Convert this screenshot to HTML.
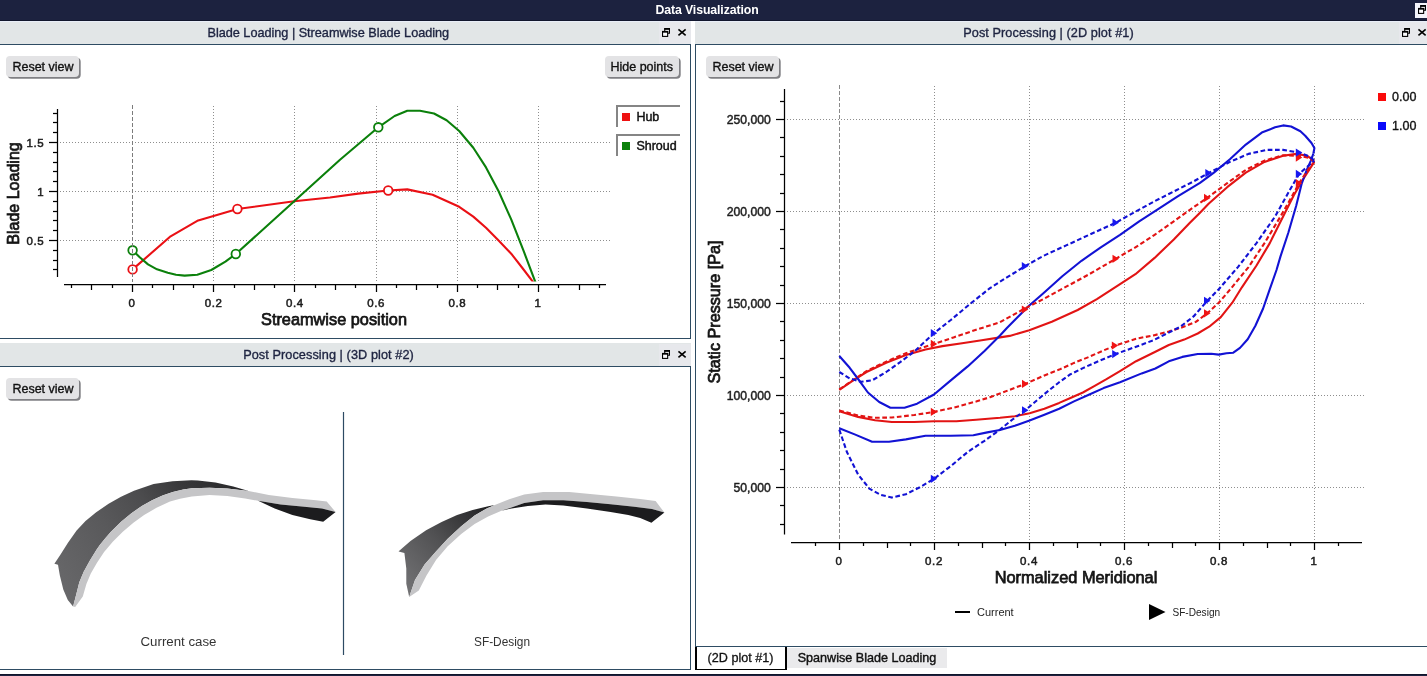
<!DOCTYPE html>
<html lang="en">
<head>
<meta charset="utf-8">
<title>Data Visualization</title>
<style>
html,body{margin:0;padding:0;}
body{width:1427px;height:676px;overflow:hidden;background:#fff;position:relative;font-family:"Liberation Sans", sans-serif;font-size:13px;color:#1b2140;}
.abs{position:absolute;}
#topbar{left:0;top:0;width:1427px;height:20px;border-bottom:1px solid #12172e;background:#1c223f;color:#fff;text-align:center;}
#topbar span{position:absolute;left:655px;top:3px;width:104px;line-height:15px;font-weight:bold;font-size:12.3px;white-space:nowrap;letter-spacing:-0.1px;}
#topbtn{left:1415px;top:3px;width:12px;height:15px;background:#f4f5fb;}
#topbtn svg{position:absolute;left:3px;top:2px;}
.tbar{background:#e2e6e7;border-top:1px solid #e9eef8;border-bottom:1px solid #2e4c63;height:22px;box-sizing:content-box;}
.tbar .ttl{position:absolute;top:4px;-webkit-text-stroke:0.35px #1d2340;line-height:15px;white-space:nowrap;text-align:center;font-size:12.7px;color:#1d2340;}
.tbar .ic{position:absolute;top:6px;}
.tbar .hl{position:absolute;top:0;height:22px;background:#e7e8ec;}
.panel{background:#fff;border:1px solid #2e4c63;box-sizing:border-box;}
.btn{background:#e3e3e5;border-radius:4px;box-shadow:1.7px 1.8px 0 0 #808084;color:#111;font-size:12.5px;line-height:22px;height:21px;text-align:center;white-space:nowrap;font-weight:normal;-webkit-text-stroke:0.35px #111;}
.leg{border-top:2px solid #858585;border-left:2px solid #858585;width:62px;height:20px;color:#111;font-size:12.5px;line-height:20px;-webkit-text-stroke:0.45px #111;}
.leg i{position:absolute;left:4px;top:6px;width:8px;height:8px;}
.leg b{position:absolute;left:18.4px;top:-0.2px;font-weight:normal;}
svg.plot{position:absolute;left:0;top:0;width:1427px;height:676px;overflow:visible;}
#tab1{left:695px;top:647px;width:92px;height:22.7px;box-sizing:border-box;border:2px solid #000;border-top:none;border-bottom-width:1.7px;background:#fff;color:#111;text-align:center;line-height:23px;font-size:12.6px;-webkit-text-stroke:0.3px #111;text-indent:-1px;}
#tab2{left:787px;top:648px;width:160px;height:20px;background:#eaeaec;color:#111;text-align:center;line-height:20.5px;font-size:12.6px;-webkit-text-stroke:0.4px #111;}
#bottombar{left:0;top:674px;width:1427px;height:1px;border-top:1px solid #10152b;background:#1c223f;}
</style>
</head>
<body>
<div id="topbar" class="abs"><span>Data Visualization</span></div>
<div id="topbtn" class="abs"><svg class="ic" width="9" height="9" viewBox="0 0 9 9"><path d="M2.75 3.2V0.9H7.45V5.2H5.8" fill="#f3f3f5" stroke="#000" stroke-width="1.1"/><path d="M2.2 0.85H8" stroke="#000" stroke-width="1.7"/><rect x="0.55" y="3.6" width="5.1" height="4.8" fill="#fbfbfd" stroke="#000" stroke-width="1.1"/><path d="M0 3.75H6.2" stroke="#000" stroke-width="1.7"/></svg></div>

<!-- left top dock -->
<div class="abs tbar" style="left:0;top:21px;width:691px;">
  <div class="ttl" style="left:-0.7px;width:658px;letter-spacing:-0.02px;">Blade Loading | Streamwise Blade Loading</div>
  <i class="hl" style="left:659px;width:32px"></i><span style="position:absolute;left:662px;top:0"><svg class="ic" width="9" height="9" viewBox="0 0 9 9"><path d="M2.75 3.2V0.9H7.45V5.2H5.8" fill="#f3f3f5" stroke="#000" stroke-width="1.1"/><path d="M2.2 0.85H8" stroke="#000" stroke-width="1.7"/><rect x="0.55" y="3.6" width="5.1" height="4.8" fill="#fbfbfd" stroke="#000" stroke-width="1.1"/><path d="M0 3.75H6.2" stroke="#000" stroke-width="1.7"/></svg></span><span style="position:absolute;left:677px;top:0"><svg class="ic" width="10" height="10" viewBox="0 0 10 10"><path d="M1.45 1.35L8.65 7.35M8.65 1.35L1.45 7.35" stroke="#000" stroke-width="1.6" fill="none"/></svg></span>
</div>
<div class="abs panel" style="left:-1px;top:44px;width:692px;height:295px;"></div>
<div class="abs btn" style="left:6px;top:56px;width:72px;padding-left:1px;">Reset view</div>
<div class="abs btn" style="left:604.5px;top:56px;width:74.5px;">Hide points</div>
<div class="abs leg" style="left:616px;top:105px;"><i style="background:#ee1111"></i><b>Hub</b></div>
<div class="abs leg" style="left:616px;top:134px;"><i style="background:#0b800b"></i><b>Shroud</b></div>

<!-- left bottom dock -->
<div class="abs tbar" style="left:0;top:343px;width:691px;border-top-color:#e2e6e7;">
  <div class="ttl" style="left:-0.5px;width:658px;letter-spacing:0.08px;">Post Processing | (3D plot #2)</div>
  <i class="hl" style="left:659px;width:32px"></i><span style="position:absolute;left:662px;top:0"><svg class="ic" width="9" height="9" viewBox="0 0 9 9"><path d="M2.75 3.2V0.9H7.45V5.2H5.8" fill="#f3f3f5" stroke="#000" stroke-width="1.1"/><path d="M2.2 0.85H8" stroke="#000" stroke-width="1.7"/><rect x="0.55" y="3.6" width="5.1" height="4.8" fill="#fbfbfd" stroke="#000" stroke-width="1.1"/><path d="M0 3.75H6.2" stroke="#000" stroke-width="1.7"/></svg></span><span style="position:absolute;left:677px;top:0"><svg class="ic" width="10" height="10" viewBox="0 0 10 10"><path d="M1.45 1.35L8.65 7.35M8.65 1.35L1.45 7.35" stroke="#000" stroke-width="1.6" fill="none"/></svg></span>
</div>
<div class="abs panel" style="left:-1px;top:366px;width:692px;height:304px;"></div>
<div class="abs btn" style="left:6px;top:378px;width:72px;padding-left:1px;">Reset view</div>

<!-- right dock -->
<div class="abs tbar" style="left:695px;top:21px;width:732px;">
  <div class="ttl" style="left:0.5px;width:706px;letter-spacing:0.07px;">Post Processing | (2D plot #1)</div>
  <i class="hl" style="left:704px;width:28px"></i><span style="position:absolute;left:707px;top:0"><svg class="ic" width="9" height="9" viewBox="0 0 9 9"><path d="M2.75 3.2V0.9H7.45V5.2H5.8" fill="#f3f3f5" stroke="#000" stroke-width="1.1"/><path d="M2.2 0.85H8" stroke="#000" stroke-width="1.7"/><rect x="0.55" y="3.6" width="5.1" height="4.8" fill="#fbfbfd" stroke="#000" stroke-width="1.1"/><path d="M0 3.75H6.2" stroke="#000" stroke-width="1.7"/></svg></span><span style="position:absolute;left:722px;top:0"><svg class="ic" width="10" height="10" viewBox="0 0 10 10"><path d="M1.45 1.35L8.65 7.35M8.65 1.35L1.45 7.35" stroke="#000" stroke-width="1.6" fill="none"/></svg></span>
</div>
<div class="abs panel" style="left:695px;top:44px;width:734px;height:603px;"></div>
<div class="abs btn" style="left:706px;top:56px;width:72px;padding-left:1px;">Reset view</div>
<div id="tab1" class="abs">(2D plot #1)</div>
<div id="tab2" class="abs">Spanwise Blade Loading</div>
<div id="bottombar" class="abs"></div>

<svg class="plot" viewBox="0 0 1427 676">
<g id="plot-blade-loading">
<g stroke="#8e8e8e" stroke-width="1" stroke-dasharray="1 2" fill="none" shape-rendering="crispEdges"><line x1="213.5" y1="106" x2="213.5" y2="281"/><line x1="294.5" y1="106" x2="294.5" y2="281"/><line x1="376.5" y1="106" x2="376.5" y2="281"/><line x1="457.5" y1="106" x2="457.5" y2="281"/><line x1="538.5" y1="106" x2="538.5" y2="281"/><line x1="60" y1="240.5" x2="611" y2="240.5"/><line x1="60" y1="191.5" x2="611" y2="191.5"/><line x1="60" y1="142.5" x2="611" y2="142.5"/></g>
<g stroke="#000" stroke-width="1.25" fill="none"><line x1="57.5" y1="109" x2="57.5" y2="277"/><line x1="64" y1="284.5" x2="606" y2="284.5"/><line x1="53.0" y1="269.5" x2="57.5" y2="269.5"/><line x1="53.0" y1="260.5" x2="57.5" y2="260.5"/><line x1="53.0" y1="250.5" x2="57.5" y2="250.5"/><line x1="49.0" y1="240.5" x2="57.5" y2="240.5"/><line x1="53.0" y1="230.5" x2="57.5" y2="230.5"/><line x1="53.0" y1="220.5" x2="57.5" y2="220.5"/><line x1="53.0" y1="211.5" x2="57.5" y2="211.5"/><line x1="53.0" y1="201.5" x2="57.5" y2="201.5"/><line x1="49.0" y1="191.5" x2="57.5" y2="191.5"/><line x1="53.0" y1="181.5" x2="57.5" y2="181.5"/><line x1="53.0" y1="171.5" x2="57.5" y2="171.5"/><line x1="53.0" y1="162.5" x2="57.5" y2="162.5"/><line x1="53.0" y1="152.5" x2="57.5" y2="152.5"/><line x1="49.0" y1="142.5" x2="57.5" y2="142.5"/><line x1="53.0" y1="132.5" x2="57.5" y2="132.5"/><line x1="53.0" y1="122.5" x2="57.5" y2="122.5"/><line x1="53.0" y1="113.5" x2="57.5" y2="113.5"/><line x1="71.5" y1="284.5" x2="71.5" y2="288.0"/><line x1="91.5" y1="284.5" x2="91.5" y2="290.0"/><line x1="112.5" y1="284.5" x2="112.5" y2="288.0"/><line x1="132.5" y1="284.5" x2="132.5" y2="292.0"/><line x1="152.5" y1="284.5" x2="152.5" y2="288.0"/><line x1="173.5" y1="284.5" x2="173.5" y2="290.0"/><line x1="193.5" y1="284.5" x2="193.5" y2="288.0"/><line x1="213.5" y1="284.5" x2="213.5" y2="292.0"/><line x1="234.5" y1="284.5" x2="234.5" y2="288.0"/><line x1="254.5" y1="284.5" x2="254.5" y2="290.0"/><line x1="274.5" y1="284.5" x2="274.5" y2="288.0"/><line x1="294.5" y1="284.5" x2="294.5" y2="292.0"/><line x1="315.5" y1="284.5" x2="315.5" y2="288.0"/><line x1="335.5" y1="284.5" x2="335.5" y2="290.0"/><line x1="355.5" y1="284.5" x2="355.5" y2="288.0"/><line x1="376.5" y1="284.5" x2="376.5" y2="292.0"/><line x1="396.5" y1="284.5" x2="396.5" y2="288.0"/><line x1="416.5" y1="284.5" x2="416.5" y2="290.0"/><line x1="437.5" y1="284.5" x2="437.5" y2="288.0"/><line x1="457.5" y1="284.5" x2="457.5" y2="292.0"/><line x1="477.5" y1="284.5" x2="477.5" y2="288.0"/><line x1="497.5" y1="284.5" x2="497.5" y2="290.0"/><line x1="518.5" y1="284.5" x2="518.5" y2="288.0"/><line x1="538.5" y1="284.5" x2="538.5" y2="292.0"/><line x1="558.5" y1="284.5" x2="558.5" y2="288.0"/><line x1="579.5" y1="284.5" x2="579.5" y2="290.0"/><line x1="599.5" y1="284.5" x2="599.5" y2="288.0"/></g>
<g font-family='"Liberation Sans", sans-serif' font-size="11.5" fill="#1c1c1c" stroke="#1c1c1c" stroke-width="0.5"><text x="131.6" y="306.8" text-anchor="middle">0</text><text x="213.4" y="306.8" text-anchor="middle" textLength="17.2" lengthAdjust="spacing">0.2</text><text x="294.6" y="306.8" text-anchor="middle" textLength="17.2" lengthAdjust="spacing">0.4</text><text x="375.8" y="306.8" text-anchor="middle" textLength="17.2" lengthAdjust="spacing">0.6</text><text x="457.0" y="306.8" text-anchor="middle" textLength="17.2" lengthAdjust="spacing">0.8</text><text x="537.6" y="306.8" text-anchor="middle">1</text><text x="43.6" y="244.7" text-anchor="end" textLength="17.2" lengthAdjust="spacing">0.5</text><text x="43.6" y="195.7" text-anchor="end">1</text><text x="43.6" y="146.7" text-anchor="end" textLength="17.2" lengthAdjust="spacing">1.5</text></g>
<text x="334" y="325.2" text-anchor="middle" font-family='"Liberation Sans", sans-serif' font-size="17" fill="#151515" stroke="#151515" stroke-width="0.75" textLength="146" lengthAdjust="spacingAndGlyphs">Streamwise position</text>
<text transform="translate(19.3,193.5) rotate(-90)" text-anchor="middle" font-family='"Liberation Sans", sans-serif' font-size="17" fill="#151515" stroke="#151515" stroke-width="0.75" textLength="102.5" lengthAdjust="spacingAndGlyphs">Blade Loading</text>
<clipPath id="cp1"><rect x="58" y="100" width="556" height="181.5"/></clipPath>
<g clip-path="url(#cp1)"><polyline points="132.6,269.4 170.6,236.3 197.3,220.8 237.4,209.0 294.2,201.2 330.0,197.5 358.0,193.6 388.2,190.5 407.3,189.4 432.6,194.7 459.2,206.8 473.3,216.6 486.0,227.8 498.6,240.5 511.2,253.7 522.0,267.5 534.6,284.0" fill="none" stroke="#ea1015" stroke-width="2.1" stroke-linejoin="round"/>
<polyline points="132.6,250.3 140.0,257.5 148.0,264.4 157.0,269.3 167.8,272.8 176.0,274.7 184.6,275.6 197.3,274.8 211.3,270.0 225.4,261.6 235.8,254.0 294.2,201.2 340.0,159.8 378.3,127.3 394.6,116.0 407.3,110.7 420.0,110.7 434.0,113.5 446.6,120.2 459.2,131.0 473.3,147.8 486.0,167.4 498.6,191.3 511.2,219.4 523.9,251.7 536.1,284.0" fill="none" stroke="#0b800b" stroke-width="2.1" stroke-linejoin="round"/></g>
<circle cx="132.6" cy="269.4" r="4.3" fill="#fff" stroke="#ea1015" stroke-width="1.8"/>
<circle cx="237.4" cy="209" r="4.3" fill="#fff" stroke="#ea1015" stroke-width="1.8"/>
<circle cx="388.2" cy="190.5" r="4.3" fill="#fff" stroke="#ea1015" stroke-width="1.8"/>
<circle cx="132.6" cy="250.3" r="4.3" fill="#fff" stroke="#0b800b" stroke-width="1.8"/>
<circle cx="235.8" cy="254" r="4.3" fill="#fff" stroke="#0b800b" stroke-width="1.8"/>
<circle cx="378.3" cy="127.3" r="4.3" fill="#fff" stroke="#0b800b" stroke-width="1.8"/>
<line x1="132.5" y1="105" x2="132.5" y2="281.5" stroke="#7c7c7c" stroke-width="1" stroke-dasharray="4 2" shape-rendering="crispEdges"/>
</g>
<g id="plot-3d">
<defs>
<linearGradient id="g1" x1="60" y1="600" x2="250" y2="480" gradientUnits="userSpaceOnUse"><stop offset="0" stop-color="#69696b"/><stop offset="0.35" stop-color="#59595b"/><stop offset="0.55" stop-color="#4c4c4e"/><stop offset="0.72" stop-color="#39393b"/><stop offset="1" stop-color="#252527"/></linearGradient>
<linearGradient id="g2" x1="400" y1="590" x2="495" y2="505" gradientUnits="userSpaceOnUse"><stop offset="0" stop-color="#757577"/><stop offset="0.5" stop-color="#505052"/><stop offset="0.85" stop-color="#2c2c2e"/><stop offset="1" stop-color="#1c1c1e"/></linearGradient>
</defs>
<polygon points="54.4,563.7 60.7,554.2 67.8,542.9 76.6,530.6 85.5,521.0 96.2,512.3 108.6,503.7 121.0,496.8 134.0,490.7 153.6,484.1 172.5,481.3 191.5,480.2 197.8,480.4 215.5,482.5 233.3,486.6 248.6,491.0 248.6,491.0 227.3,488.4 209.6,487.8 191.8,488.2 183.2,489.4 172.8,492.0 162.5,495.6 152.1,500.2 141.8,506.0 131.4,513.2 121.1,521.8 110.7,531.9 105.5,538.1 99.8,545.0 96.5,549.8 89.9,560.5 83.7,571.7 79.3,582.3 76.6,593.0 73.1,606.6 67.8,600.0 63.3,589.4 59.8,575.2 58.0,564.8 54.4,563.7" fill="url(#g1)"/>
<polygon points="73.1,606.6 76.6,593.0 79.3,582.3 83.7,571.7 89.9,560.5 96.5,549.8 99.8,545.0 105.5,538.1 110.7,531.9 121.1,521.8 131.4,513.2 141.8,506.0 152.1,500.2 162.5,495.6 172.8,492.0 183.2,489.4 191.8,488.2 209.6,487.8 227.3,488.4 248.6,491.0 268.8,494.9 292.4,497.9 316.1,500.2 326.7,501.4 335.6,512.1 335.6,512.1 322.0,508.5 304.3,506.7 280.6,504.4 258.1,500.8 245.1,498.5 227.3,496.1 209.6,494.9 191.8,496.4 180.0,498.8 170.0,501.5 156.5,507.8 144.1,514.9 133.4,522.8 122.8,531.7 113.0,541.5 104.1,552.1 97.0,562.8 90.8,573.4 86.4,584.1 82.8,596.5 75.2,607.0" fill="#c5c5c7"/>
<polygon points="258.1,500.8 280.6,504.4 304.3,506.7 322.0,508.5 335.6,512.1 323.2,521.8 310.2,519.2 292.4,515.0 274.7,508.5" fill="#1c1c1e"/>
<polygon points="398.7,551.2 410.5,541.0 426.1,530.3 441.6,522.0 457.1,515.0 472.6,510.0 488.2,506.3 494.8,505.0 494.8,505.0 486.2,508.8 474.6,515.6 461.2,526.2 447.7,538.7 436.2,551.2 424.6,564.6 415.0,580.0 409.2,596.9 406.3,583.8 406.3,568.5 404.4,553.0 398.7,551.5" fill="url(#g2)"/>
<polygon points="409.2,596.9 415.0,580.0 424.6,564.6 436.2,551.2 447.7,538.7 461.2,526.2 474.6,515.6 486.2,508.8 494.8,505.0 509.2,499.2 524.2,494.6 543.1,492.1 569.2,492.1 592.8,494.3 616.5,496.6 640.2,499.0 655.6,501.0 664.4,512.6 664.4,512.6 652.0,509.1 634.3,506.7 610.6,504.3 586.9,502.0 563.3,500.2 543.1,500.2 524.2,503.1 510.0,507.9 501.5,510.8 488.1,516.5 474.6,524.0 461.2,534.0 447.7,546.3 436.2,559.8 426.5,575.6 418.8,590.6 409.2,596.9" fill="#c5c5c7"/>
<polygon points="501.5,510.8 510.0,507.9 524.2,503.1 543.1,500.2 563.3,500.2 586.9,502.0 610.6,504.3 634.3,506.7 652.0,509.1 664.4,512.6 651.4,522.7 640.2,517.9 628.3,515.0 610.6,512.0 586.9,508.5 563.3,505.5 545.5,504.6 527.8,506.1 510.0,508.8" fill="#1c1c1e"/>
<line x1="343.5" y1="412" x2="343.5" y2="655" stroke="#2d4a63" stroke-width="1.2"/>
<g font-family='"Liberation Sans", sans-serif' font-size="12" fill="#333"><text x="178.5" y="645.5" text-anchor="middle" textLength="76" lengthAdjust="spacingAndGlyphs">Current case</text><text x="502" y="645.5" text-anchor="middle" textLength="56" lengthAdjust="spacingAndGlyphs">SF-Design</text></g>
</g>
<g id="plot-static-pressure">
<g stroke="#8e8e8e" stroke-width="1" stroke-dasharray="1 2" fill="none" shape-rendering="crispEdges"><line x1="934.5" y1="86" x2="934.5" y2="539.5"/><line x1="1029.5" y1="86" x2="1029.5" y2="539.5"/><line x1="1124.5" y1="86" x2="1124.5" y2="539.5"/><line x1="1219.5" y1="86" x2="1219.5" y2="539.5"/><line x1="1314.5" y1="86" x2="1314.5" y2="539.5"/><line x1="787" y1="487.5" x2="1364" y2="487.5"/><line x1="787" y1="395.5" x2="1364" y2="395.5"/><line x1="787" y1="303.5" x2="1364" y2="303.5"/><line x1="787" y1="211.5" x2="1364" y2="211.5"/><line x1="787" y1="119.5" x2="1364" y2="119.5"/></g>
<line x1="839.5" y1="85" x2="839.5" y2="539.5" stroke="#8a8a8a" stroke-width="1" stroke-dasharray="4 2" shape-rendering="crispEdges"/>
<g stroke="#000" stroke-width="1.25" fill="none"><line x1="784.5" y1="89" x2="784.5" y2="534.5"/><line x1="791" y1="542.5" x2="1362" y2="542.5"/><line x1="780.0" y1="524.5" x2="784.5" y2="524.5"/><line x1="780.0" y1="505.5" x2="784.5" y2="505.5"/><line x1="776.0" y1="487.5" x2="784.5" y2="487.5"/><line x1="780.0" y1="469.5" x2="784.5" y2="469.5"/><line x1="780.0" y1="450.5" x2="784.5" y2="450.5"/><line x1="780.0" y1="432.5" x2="784.5" y2="432.5"/><line x1="780.0" y1="413.5" x2="784.5" y2="413.5"/><line x1="776.0" y1="395.5" x2="784.5" y2="395.5"/><line x1="780.0" y1="377.5" x2="784.5" y2="377.5"/><line x1="780.0" y1="358.5" x2="784.5" y2="358.5"/><line x1="780.0" y1="340.5" x2="784.5" y2="340.5"/><line x1="780.0" y1="321.5" x2="784.5" y2="321.5"/><line x1="776.0" y1="303.5" x2="784.5" y2="303.5"/><line x1="780.0" y1="285.5" x2="784.5" y2="285.5"/><line x1="780.0" y1="266.5" x2="784.5" y2="266.5"/><line x1="780.0" y1="248.5" x2="784.5" y2="248.5"/><line x1="780.0" y1="229.5" x2="784.5" y2="229.5"/><line x1="776.0" y1="211.5" x2="784.5" y2="211.5"/><line x1="780.0" y1="193.5" x2="784.5" y2="193.5"/><line x1="780.0" y1="174.5" x2="784.5" y2="174.5"/><line x1="780.0" y1="156.5" x2="784.5" y2="156.5"/><line x1="780.0" y1="137.5" x2="784.5" y2="137.5"/><line x1="776.0" y1="119.5" x2="784.5" y2="119.5"/><line x1="780.0" y1="101.5" x2="784.5" y2="101.5"/><line x1="815.5" y1="542.5" x2="815.5" y2="546.0"/><line x1="839.5" y1="542.5" x2="839.5" y2="550.0"/><line x1="863.5" y1="542.5" x2="863.5" y2="546.0"/><line x1="887.5" y1="542.5" x2="887.5" y2="548.0"/><line x1="910.5" y1="542.5" x2="910.5" y2="546.0"/><line x1="934.5" y1="542.5" x2="934.5" y2="550.0"/><line x1="958.5" y1="542.5" x2="958.5" y2="546.0"/><line x1="982.5" y1="542.5" x2="982.5" y2="548.0"/><line x1="1005.5" y1="542.5" x2="1005.5" y2="546.0"/><line x1="1029.5" y1="542.5" x2="1029.5" y2="550.0"/><line x1="1053.5" y1="542.5" x2="1053.5" y2="546.0"/><line x1="1077.5" y1="542.5" x2="1077.5" y2="548.0"/><line x1="1100.5" y1="542.5" x2="1100.5" y2="546.0"/><line x1="1124.5" y1="542.5" x2="1124.5" y2="550.0"/><line x1="1148.5" y1="542.5" x2="1148.5" y2="546.0"/><line x1="1172.5" y1="542.5" x2="1172.5" y2="548.0"/><line x1="1195.5" y1="542.5" x2="1195.5" y2="546.0"/><line x1="1219.5" y1="542.5" x2="1219.5" y2="550.0"/><line x1="1243.5" y1="542.5" x2="1243.5" y2="546.0"/><line x1="1267.5" y1="542.5" x2="1267.5" y2="548.0"/><line x1="1290.5" y1="542.5" x2="1290.5" y2="546.0"/><line x1="1314.5" y1="542.5" x2="1314.5" y2="550.0"/><line x1="1338.5" y1="542.5" x2="1338.5" y2="546.0"/></g>
<g font-family='"Liberation Sans", sans-serif' font-size="12.2" fill="#1c1c1c" stroke="#1c1c1c" stroke-width="0.45"><text x="838.7" y="564.8" text-anchor="middle" font-size="11.5" stroke-width="0.5">0</text><text x="933.7" y="564.8" text-anchor="middle" font-size="11.5" stroke-width="0.5" textLength="17.2" lengthAdjust="spacing">0.2</text><text x="1028.7" y="564.8" text-anchor="middle" font-size="11.5" stroke-width="0.5" textLength="17.2" lengthAdjust="spacing">0.4</text><text x="1123.7" y="564.8" text-anchor="middle" font-size="11.5" stroke-width="0.5" textLength="17.2" lengthAdjust="spacing">0.6</text><text x="1218.7" y="564.8" text-anchor="middle" font-size="11.5" stroke-width="0.5" textLength="17.2" lengthAdjust="spacing">0.8</text><text x="1313.7" y="564.8" text-anchor="middle" font-size="11.5" stroke-width="0.5">1</text><text x="770.8" y="491.7" text-anchor="end">50,000</text><text x="770.8" y="399.7" text-anchor="end">100,000</text><text x="770.8" y="307.7" text-anchor="end">150,000</text><text x="770.8" y="215.7" text-anchor="end">200,000</text><text x="770.8" y="123.7" text-anchor="end">250,000</text></g>
<text x="1076" y="583" text-anchor="middle" font-family='"Liberation Sans", sans-serif' font-size="16.5" fill="#151515" stroke="#151515" stroke-width="0.75" textLength="162.7" lengthAdjust="spacingAndGlyphs">Normalized Meridional</text>
<text transform="translate(720,312) rotate(-90)" text-anchor="middle" font-family='"Liberation Sans", sans-serif' font-size="16.5" fill="#151515" stroke="#151515" stroke-width="0.75" textLength="143" lengthAdjust="spacingAndGlyphs">Static Pressure [Pa]</text>
<polyline points="839.3,389.8 852.5,380.8 866.5,372.0 886.2,362.7 905.9,355.1 925.5,349.5 942.4,346.1 962.1,343.3 981.7,340.2 1000.0,337.4 1009.7,335.9 1029.3,330.2 1051.8,321.8 1077.7,310.0 1096.9,299.2 1116.2,286.7 1135.4,274.2 1154.6,257.9 1173.8,239.6 1189.9,222.8 1200.0,212.7 1208.6,203.8 1227.2,187.2 1245.8,172.6 1264.5,161.9 1283.1,155.8 1296.4,153.9 1307.1,155.8 1314.3,160.6" fill="none" stroke="#e21414" stroke-width="2.1" stroke-linejoin="round"/>
<polyline points="839.3,411.3 858.1,416.9 875.0,420.3 891.8,422.0 914.3,422.0 934.0,421.2 956.4,421.2 976.1,419.7 1000.0,417.8 1014.8,416.2 1029.6,413.2 1044.4,408.8 1059.2,402.9 1071.0,397.7 1082.9,392.5 1094.7,385.9 1106.5,379.2 1120.0,371.1 1136.1,361.2 1155.4,351.7 1168.8,345.0 1184.2,339.6 1197.7,333.5 1209.2,326.7 1220.8,317.1 1232.3,302.7 1241.9,287.3 1256.5,265.5 1269.8,243.1 1283.1,216.5 1293.8,195.2 1303.1,179.2 1314.3,161.9" fill="none" stroke="#e21414" stroke-width="2.1" stroke-linejoin="round"/>
<polyline points="839.3,356.0 849.7,367.8 858.1,379.0 867.9,392.5 879.2,402.0 890.4,407.7 904.5,407.7 917.1,403.7 934.0,394.5 950.8,380.4 967.7,366.4 984.5,350.9 1000.0,335.5 1006.9,328.0 1029.3,305.5 1043.1,293.5 1062.3,276.2 1081.5,260.8 1100.8,247.3 1120.0,234.8 1139.2,221.3 1158.5,208.8 1177.7,196.3 1200.0,182.9 1213.9,172.6 1229.9,159.3 1245.8,144.6 1261.8,132.6 1275.1,127.3 1283.1,125.4 1291.1,126.5 1300.4,131.3 1305.2,135.7 1311.5,143.0 1314.4,148.0 1313.4,153.5" fill="none" stroke="#1212d4" stroke-width="2.1" stroke-linejoin="round"/>
<polyline points="839.3,428.2 855.3,434.6 872.1,441.7 889.0,441.7 905.9,439.4 925.5,435.8 950.8,435.8 973.3,435.2 987.3,432.4 1000.0,430.0 1014.8,425.8 1029.6,420.6 1044.4,414.7 1059.2,408.8 1074.0,401.4 1088.8,394.8 1103.6,388.1 1120.0,382.2 1141.7,373.4 1155.4,368.5 1168.8,361.3 1182.3,356.9 1197.7,354.0 1211.2,353.7 1218.8,354.6 1226.5,353.3 1233.3,352.7 1240.0,347.9 1247.7,339.2 1255.4,325.8 1263.1,308.5 1269.8,289.2 1276.5,270.0 1280.5,256.4 1288.4,232.5 1296.2,205.8 1301.6,184.0 1306.3,171.0 1310.9,160.6 1313.4,153.5" fill="none" stroke="#1212d4" stroke-width="2.1" stroke-linejoin="round"/>
<polyline points="839.3,389.4 866.5,371.1 886.2,361.6 905.9,353.2 934.0,343.9 953.6,337.4 976.1,329.8 1000.0,322.2 1006.9,318.4 1023.8,309.0 1043.1,299.2 1066.2,286.7 1089.2,274.2 1115.8,258.8 1135.4,247.3 1154.6,234.8 1173.8,221.3 1189.9,209.8 1207.2,197.9 1227.2,183.2 1245.8,169.9 1264.5,160.6 1283.1,155.3 1299.1,155.8 1309.7,157.9 1314.3,161.9" fill="none" stroke="#e21414" stroke-width="2.1" stroke-linejoin="round" stroke-dasharray="4.7 2.6"/>
<polyline points="839.3,410.5 858.1,415.5 875.0,417.8 891.8,417.5 914.3,415.0 934.0,411.9 953.6,407.7 976.1,401.5 990.0,397.2 1000.0,393.5 1025.2,383.9 1044.4,375.5 1059.2,369.6 1074.0,362.9 1088.8,357.0 1103.6,350.4 1116.9,345.0 1136.1,338.7 1153.5,335.4 1168.8,331.5 1182.3,327.3 1195.8,321.9 1207.3,313.3 1218.8,302.7 1230.4,289.2 1248.5,267.1 1264.5,243.1 1280.5,216.5 1291.1,197.9 1299.1,183.2 1309.7,167.2 1314.3,161.9" fill="none" stroke="#e21414" stroke-width="2.1" stroke-linejoin="round" stroke-dasharray="4.7 2.6"/>
<polyline points="839.3,372.0 849.7,378.4 860.9,381.8 872.1,380.4 886.2,372.0 900.2,362.1 914.3,351.5 934.0,333.2 950.8,320.0 970.0,304.0 990.0,288.1 1006.9,277.4 1025.1,266.2 1043.1,256.0 1066.2,245.4 1089.2,234.8 1115.8,222.7 1135.4,211.7 1154.6,201.2 1173.8,191.5 1192.6,181.9 1208.6,173.1 1229.9,161.9 1248.5,153.9 1267.1,149.9 1283.1,149.9 1299.1,152.6 1309.7,156.6 1314.3,160.6" fill="none" stroke="#1212d4" stroke-width="2.1" stroke-linejoin="round" stroke-dasharray="4.7 2.6"/>
<polyline points="839.3,429.6 846.9,452.0 858.1,474.5 869.3,488.6 880.6,494.8 891.8,497.6 905.9,494.2 919.9,487.2 934.0,478.8 950.8,466.1 967.7,452.0 984.5,440.8 1000.0,429.6 1012.5,419.5 1025.2,410.3 1044.4,394.0 1059.2,382.2 1069.5,374.8 1082.9,368.1 1097.7,361.5 1115.4,354.1 1138.9,345.7 1153.5,340.2 1166.9,333.5 1180.4,326.7 1193.8,316.2 1207.3,300.8 1218.8,289.2 1237.9,267.1 1256.5,243.1 1275.1,216.5 1288.4,192.5 1299.1,173.9 1309.7,164.6 1314.3,160.6" fill="none" stroke="#1212d4" stroke-width="2.1" stroke-linejoin="round" stroke-dasharray="4.7 2.6"/>
<path d="M930.8 339.8 L937.2 343.9 L930.8 348.0 Z" fill="#f01414"/>
<path d="M1021.8 305.4 L1028.3 309.5 L1021.8 313.6 Z" fill="#f01414"/>
<path d="M1112.5 254.7 L1119.0 258.8 L1112.5 262.9 Z" fill="#f01414"/>
<path d="M1204.0 193.8 L1210.5 197.9 L1204.0 202.0 Z" fill="#f01414"/>
<path d="M1295.8 153.5 L1302.3 157.6 L1295.8 161.7 Z" fill="#f01414"/>
<path d="M930.8 407.8 L937.2 411.9 L930.8 416.0 Z" fill="#f01414"/>
<path d="M1022.0 379.8 L1028.5 383.9 L1022.0 388.0 Z" fill="#f01414"/>
<path d="M1111.8 341.5 L1118.2 345.6 L1111.8 349.7 Z" fill="#f01414"/>
<path d="M1204.0 309.2 L1210.5 313.3 L1204.0 317.4 Z" fill="#f01414"/>
<path d="M1295.8 179.1 L1302.3 183.2 L1295.8 187.3 Z" fill="#f01414"/>
<path d="M930.8 329.1 L937.2 333.2 L930.8 337.3 Z" fill="#1818f0"/>
<path d="M1021.8 262.1 L1028.3 266.2 L1021.8 270.3 Z" fill="#1818f0"/>
<path d="M1112.5 218.6 L1119.0 222.7 L1112.5 226.8 Z" fill="#1818f0"/>
<path d="M1205.3 169.0 L1211.8 173.1 L1205.3 177.2 Z" fill="#1818f0"/>
<path d="M1295.8 148.5 L1302.3 152.6 L1295.8 156.7 Z" fill="#1818f0"/>
<path d="M930.8 474.7 L937.2 478.8 L930.8 482.9 Z" fill="#1818f0"/>
<path d="M1022.0 406.2 L1028.5 410.3 L1022.0 414.4 Z" fill="#1818f0"/>
<path d="M1112.2 350.0 L1118.7 354.1 L1112.2 358.2 Z" fill="#1818f0"/>
<path d="M1204.0 296.7 L1210.5 300.8 L1204.0 304.9 Z" fill="#1818f0"/>
<path d="M1295.8 169.8 L1302.3 173.9 L1295.8 178.0 Z" fill="#1818f0"/>
<rect x="1378" y="93" width="8" height="8" fill="#fa0a0a"/>
<rect x="1378" y="122" width="8" height="8" fill="#0a0afa"/>
<g font-family='"Liberation Sans", sans-serif' font-size="12.5" fill="#111" stroke="#111" stroke-width="0.35"><text x="1392" y="100.6">0.00</text><text x="1392" y="129.6">1.00</text></g>
<line x1="955" y1="612" x2="970" y2="612" stroke="#000" stroke-width="2"/>
<path d="M1149 604 L1165.5 612 L1149 620 Z" fill="#000"/>
<g font-family='"Liberation Sans", sans-serif' font-size="11" fill="#222"><text x="977" y="616">Current</text><text x="1172.5" y="616" textLength="47.6" lengthAdjust="spacingAndGlyphs">SF-Design</text></g>
</g>
</svg>
</body>
</html>
